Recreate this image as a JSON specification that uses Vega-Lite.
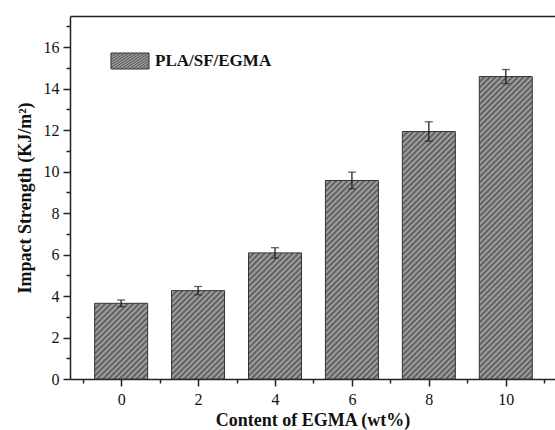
{
  "$schema": "https://vega.github.io/schema/vega-lite/v6.json",
  "width": 485,
  "height": 363,
  "autosize": {"type": "none"},
  "padding": {"left": 70, "top": 16, "right": 0, "bottom": 51},
  "background": "white",
  "params": [
    {"name": "hatch", "value": [
      {"offset":0,"color":"#555"},{"offset":0.0078125,"color":"#aaa"},{"offset":0.015625,"color":"#555"},{"offset":0.0234375,"color":"#aaa"},
      {"offset":0.03125,"color":"#555"},{"offset":0.0390625,"color":"#aaa"},{"offset":0.046875,"color":"#555"},{"offset":0.0546875,"color":"#aaa"},
      {"offset":0.0625,"color":"#555"},{"offset":0.0703125,"color":"#aaa"},{"offset":0.078125,"color":"#555"},{"offset":0.0859375,"color":"#aaa"},
      {"offset":0.09375,"color":"#555"},{"offset":0.1015625,"color":"#aaa"},{"offset":0.109375,"color":"#555"},{"offset":0.1171875,"color":"#aaa"},
      {"offset":0.125,"color":"#555"},{"offset":0.1328125,"color":"#aaa"},{"offset":0.140625,"color":"#555"},{"offset":0.1484375,"color":"#aaa"},
      {"offset":0.15625,"color":"#555"},{"offset":0.1640625,"color":"#aaa"},{"offset":0.171875,"color":"#555"},{"offset":0.1796875,"color":"#aaa"},
      {"offset":0.1875,"color":"#555"},{"offset":0.1953125,"color":"#aaa"},{"offset":0.203125,"color":"#555"},{"offset":0.2109375,"color":"#aaa"},
      {"offset":0.21875,"color":"#555"},{"offset":0.2265625,"color":"#aaa"},{"offset":0.234375,"color":"#555"},{"offset":0.2421875,"color":"#aaa"},
      {"offset":0.25,"color":"#555"},{"offset":0.2578125,"color":"#aaa"},{"offset":0.265625,"color":"#555"},{"offset":0.2734375,"color":"#aaa"},
      {"offset":0.28125,"color":"#555"},{"offset":0.2890625,"color":"#aaa"},{"offset":0.296875,"color":"#555"},{"offset":0.3046875,"color":"#aaa"},
      {"offset":0.3125,"color":"#555"},{"offset":0.3203125,"color":"#aaa"},{"offset":0.328125,"color":"#555"},{"offset":0.3359375,"color":"#aaa"},
      {"offset":0.34375,"color":"#555"},{"offset":0.3515625,"color":"#aaa"},{"offset":0.359375,"color":"#555"},{"offset":0.3671875,"color":"#aaa"},
      {"offset":0.375,"color":"#555"},{"offset":0.3828125,"color":"#aaa"},{"offset":0.390625,"color":"#555"},{"offset":0.3984375,"color":"#aaa"},
      {"offset":0.40625,"color":"#555"},{"offset":0.4140625,"color":"#aaa"},{"offset":0.421875,"color":"#555"},{"offset":0.4296875,"color":"#aaa"},
      {"offset":0.4375,"color":"#555"},{"offset":0.4453125,"color":"#aaa"},{"offset":0.453125,"color":"#555"},{"offset":0.4609375,"color":"#aaa"},
      {"offset":0.46875,"color":"#555"},{"offset":0.4765625,"color":"#aaa"},{"offset":0.484375,"color":"#555"},{"offset":0.4921875,"color":"#aaa"},
      {"offset":0.5,"color":"#555"},{"offset":0.5078125,"color":"#aaa"},{"offset":0.515625,"color":"#555"},{"offset":0.5234375,"color":"#aaa"},
      {"offset":0.53125,"color":"#555"},{"offset":0.5390625,"color":"#aaa"},{"offset":0.546875,"color":"#555"},{"offset":0.5546875,"color":"#aaa"},
      {"offset":0.5625,"color":"#555"},{"offset":0.5703125,"color":"#aaa"},{"offset":0.578125,"color":"#555"},{"offset":0.5859375,"color":"#aaa"},
      {"offset":0.59375,"color":"#555"},{"offset":0.6015625,"color":"#aaa"},{"offset":0.609375,"color":"#555"},{"offset":0.6171875,"color":"#aaa"},
      {"offset":0.625,"color":"#555"},{"offset":0.6328125,"color":"#aaa"},{"offset":0.640625,"color":"#555"},{"offset":0.6484375,"color":"#aaa"},
      {"offset":0.65625,"color":"#555"},{"offset":0.6640625,"color":"#aaa"},{"offset":0.671875,"color":"#555"},{"offset":0.6796875,"color":"#aaa"},
      {"offset":0.6875,"color":"#555"},{"offset":0.6953125,"color":"#aaa"},{"offset":0.703125,"color":"#555"},{"offset":0.7109375,"color":"#aaa"},
      {"offset":0.71875,"color":"#555"},{"offset":0.7265625,"color":"#aaa"},{"offset":0.734375,"color":"#555"},{"offset":0.7421875,"color":"#aaa"},
      {"offset":0.75,"color":"#555"},{"offset":0.7578125,"color":"#aaa"},{"offset":0.765625,"color":"#555"},{"offset":0.7734375,"color":"#aaa"},
      {"offset":0.78125,"color":"#555"},{"offset":0.7890625,"color":"#aaa"},{"offset":0.796875,"color":"#555"},{"offset":0.8046875,"color":"#aaa"},
      {"offset":0.8125,"color":"#555"},{"offset":0.8203125,"color":"#aaa"},{"offset":0.828125,"color":"#555"},{"offset":0.8359375,"color":"#aaa"},
      {"offset":0.84375,"color":"#555"},{"offset":0.8515625,"color":"#aaa"},{"offset":0.859375,"color":"#555"},{"offset":0.8671875,"color":"#aaa"},
      {"offset":0.875,"color":"#555"},{"offset":0.8828125,"color":"#aaa"},{"offset":0.890625,"color":"#555"},{"offset":0.8984375,"color":"#aaa"},
      {"offset":0.90625,"color":"#555"},{"offset":0.9140625,"color":"#aaa"},{"offset":0.921875,"color":"#555"},{"offset":0.9296875,"color":"#aaa"},
      {"offset":0.9375,"color":"#555"},{"offset":0.9453125,"color":"#aaa"},{"offset":0.953125,"color":"#555"},{"offset":0.9609375,"color":"#aaa"},
      {"offset":0.96875,"color":"#555"},{"offset":0.9765625,"color":"#aaa"},{"offset":0.984375,"color":"#555"},{"offset":0.9921875,"color":"#aaa"},
      {"offset":1,"color":"#555"}
    ]}
  ],
  "config": {
    "view": {"stroke": null},
    "font": "Liberation Serif",
    "axis": {
      "labelFont": "Liberation Serif",
      "titleFont": "Liberation Serif",
      "labelFontSize": 16,
      "titleFontSize": 18,
      "titleFontWeight": "bold",
      "labelColor": "#111",
      "titleColor": "#111",
      "domainColor": "#222",
      "tickColor": "#222",
      "domainWidth": 1.5,
      "tickWidth": 1.5,
      "grid": false,
      "zindex": 1
    }
  },
  "data": {
    "values": [
      {"c": 0, "v": 3.65, "lo": 3.49, "hi": 3.81, "s": "PLA/SF/EGMA"},
      {"c": 2, "v": 4.26, "lo": 4.06, "hi": 4.46, "s": "PLA/SF/EGMA"},
      {"c": 4, "v": 6.08, "lo": 5.83, "hi": 6.33, "s": "PLA/SF/EGMA"},
      {"c": 6, "v": 9.57, "lo": 9.17, "hi": 9.97, "s": "PLA/SF/EGMA"},
      {"c": 8, "v": 11.93, "lo": 11.46, "hi": 12.4, "s": "PLA/SF/EGMA"},
      {"c": 10, "v": 14.58, "lo": 14.24, "hi": 14.92, "s": "PLA/SF/EGMA"}
    ]
  },
  "resolve": {"axis": {"x": "independent", "y": "independent"}},
  "layer": [
    {
      "mark": {
        "type": "bar", "size": 53, "strokeWidth": 1,
        "fill": {"expr": "{gradient: 'linear', x1: 0, y1: 0, x2: datum.c === 0 ? 2.2215 : datum.c === 2 ? 1.7869 : datum.c === 4 ? 1.0139 : datum.c === 6 ? 0.44946 : datum.c === 8 ? 0.29625 : 0.20127, y2: datum.c === 0 ? 3.1735 : datum.c === 2 ? 2.9792 : datum.c === 4 ? 2.4126 : datum.c === 6 ? 1.68344 : datum.c === 8 ? 1.38324 : 1.14848, stops: hatch}"}
      },
      "encoding": {
        "x": {
          "field": "c", "type": "quantitative",
          "scale": {"domain": [-1.2, 11.15], "nice": false, "zero": false},
          "axis": {
            "orient": "bottom",
            "values": [0, 2, 4, 6, 8, 10],
            "tickSize": 7,
            "labelPadding": 5,
            "title": "Content of EGMA (wt%)",
            "titlePadding": 4
          }
        },
        "y": {
          "field": "v", "type": "quantitative",
          "scale": {"domain": [0, 17.5], "nice": false},
          "axis": {
            "orient": "left",
            "values": [0, 2, 4, 6, 8, 10, 12, 14, 16],
            "tickSize": 7,
            "labelPadding": 4,
            "title": "Impact Strength (KJ/m²)",
            "titlePadding": 9
          }
        },
        "stroke": {
          "field": "s", "type": "nominal",
          "scale": {"range": ["#333333"]},
          "legend": {
            "orient": "none",
            "legendX": 40,
            "legendY": 25,
            "title": null,
            "symbolType": "M-1,-0.42H1V0.42H-1Z",
            "symbolSize": 1450,
            "symbolStrokeWidth": 1,
            "labelFont": "Liberation Serif",
            "labelFontSize": 17,
            "labelFontWeight": "bold",
            "labelColor": "#111",
            "labelOffset": 5,
            "encode": {
              "symbols": {
                "update": {
                  "fill": {"signal": "{gradient: 'linear', x1: 0, y1: 0, x2: 7.992, y2: 3.356, stops: hatch}"},
                  "stroke": {"value": "#333333"}
                }
              }
            }
          }
        }
      }
    },
    {
      "mark": {"type": "rule", "color": "#222", "strokeWidth": 1.3},
      "encoding": {
        "x": {
          "field": "c", "type": "quantitative",
          "axis": {"orient": "bottom", "values": [-1, 1, 3, 5, 7, 9, 11], "labels": false, "domain": false, "tickSize": 4, "title": null}
        },
        "y": {
          "field": "lo", "type": "quantitative",
          "axis": {"orient": "left", "values": [1, 3, 5, 7, 9, 11, 13, 15, 17], "labels": false, "domain": false, "tickSize": 4, "title": null}
        },
        "y2": {"field": "hi"}
      }
    },
    {
      "mark": {"type": "tick", "orient": "horizontal", "size": 8, "thickness": 1.3, "color": "#222"},
      "encoding": {
        "x": {
          "field": "c", "type": "quantitative",
          "axis": {"orient": "top", "values": [], "labels": false, "ticks": false, "domain": true, "title": null}
        },
        "y": {"field": "lo", "type": "quantitative", "axis": null}
      }
    },
    {
      "mark": {"type": "tick", "orient": "horizontal", "size": 8, "thickness": 1.3, "color": "#222"},
      "encoding": {
        "x": {"field": "c", "type": "quantitative", "axis": null},
        "y": {"field": "hi", "type": "quantitative", "axis": null}
      }
    }
  ]
}
